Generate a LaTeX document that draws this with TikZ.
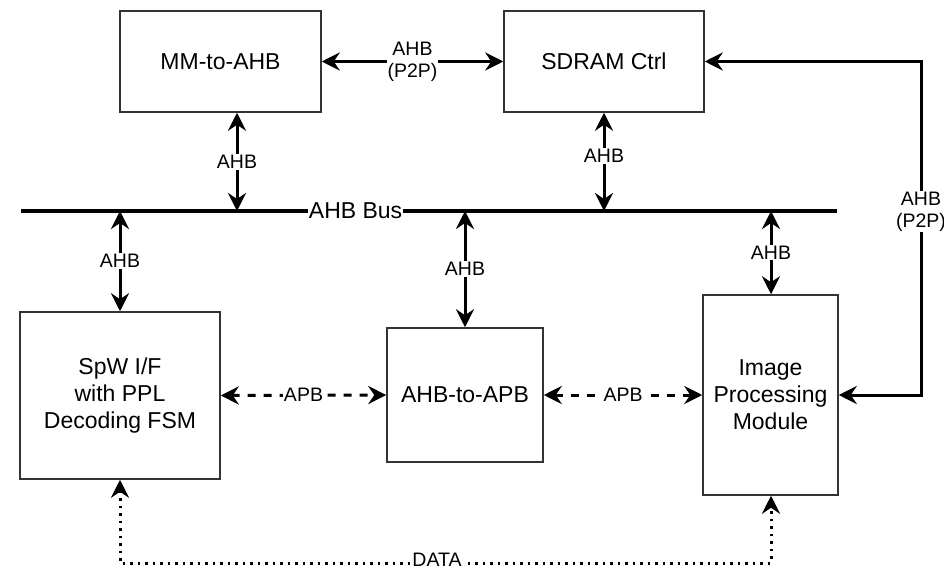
\documentclass[tikz,border=0pt]{standalone}
\usepackage{fontspec}
\setmainfont{Liberation Sans}
\usetikzlibrary{arrows.meta, positioning}

\tikzset{
    block/.style={draw=black!80, line width=1.5pt, fill=white, align=center,
        font=\fontsize{23}{27}\selectfont},
    lbl/.style={fill=white, inner sep=1pt, align=center,
        font=\fontsize{19.5}{22}\selectfont},
    link/.style={line width=3pt, {Stealth[length=18pt,width=18pt,inset=6pt]}-{Stealth[length=18pt,width=18pt,inset=6pt]}},
    apblink/.style={link, dash pattern=on 8pt off 8pt},
    datalink/.style={link, line width=3pt, dash pattern=on 2.5pt off 5pt}
}

\begin{document}
\begin{tikzpicture}[x=1pt, y=-1pt]
    \useasboundingbox (0,0) rectangle (944,569);

    % Top row blocks
    \node[block, minimum width=201pt, minimum height=101pt] (mm) at (220.5,61.5) {MM-to-AHB};
    \node[block, minimum width=200pt, minimum height=101pt] (sdram) at (604,61.5) {SDRAM Ctrl};

    % AHB bus line
    \coordinate (busL) at (21,211);
    \coordinate (busR) at (837,211);
    \draw[line width=4.5pt] (busL) -- node[lbl, font=\fontsize{23}{27}\selectfont, pos=0.41] {AHB Bus} (busR);

    % Bottom row blocks
    \node[block, minimum width=200pt, minimum height=167pt] (spw) at (120,395.5) {SpW I/F\\with PPL\\Decoding FSM};
    \node[block, minimum width=156pt, minimum height=134pt] (apb) at (465,395) {AHB-to-APB};
    \node[block, minimum width=135pt, minimum height=200pt] (ipm) at (770.5,395) {Image\\Processing\\Module};

    % Taps on the bus
    \coordinate (t1) at (237,211);
    \coordinate (t2) at (604,211);
    \coordinate (t3) at (120,211);
    \coordinate (t4) at (465,211);
    \coordinate (t5) at (771,211);

    % Bus connections
    \draw[link] (mm.south -| t1) -- node[lbl] {AHB} (t1);
    \draw[link] (sdram.south -| t2) -- node[lbl, pos=0.44] {AHB} (t2);
    \draw[link] (t3) -- node[lbl] {AHB} (spw.north -| t3);
    \draw[link] (t4) -- node[lbl] {AHB} (apb.north -| t4);
    \draw[link] (t5) -- node[lbl] {AHB} (ipm.north -| t5);

    % Point-to-point AHB links
    \draw[link] (mm.east) -- node[lbl] {AHB\\(P2P)} (sdram.west);
    \coordinate (p2pT) at (921,61.5);
    \coordinate (p2pB) at (921,395);
    \draw[link] (sdram.east) -- (p2pT) -- node[lbl, pos=0.45] {AHB\\(P2P)} (p2pB) -- (ipm.east);

    % Data path (dotted)
    \coordinate (dL) at (120,563);
    \coordinate (dR) at (771,563);
    \draw[datalink] (spw.south) -- (dL) -- node[lbl, pos=0.487, yshift=3pt] {DATA} (dR) -- (ipm.south -| dR);

    % APB links (dashed)
    \draw[apblink] (spw.east) -- node[lbl] {APB} (apb.west);
    \draw[apblink] (apb.east) -- node[lbl] {APB} (ipm.west);
\end{tikzpicture}
\end{document}
